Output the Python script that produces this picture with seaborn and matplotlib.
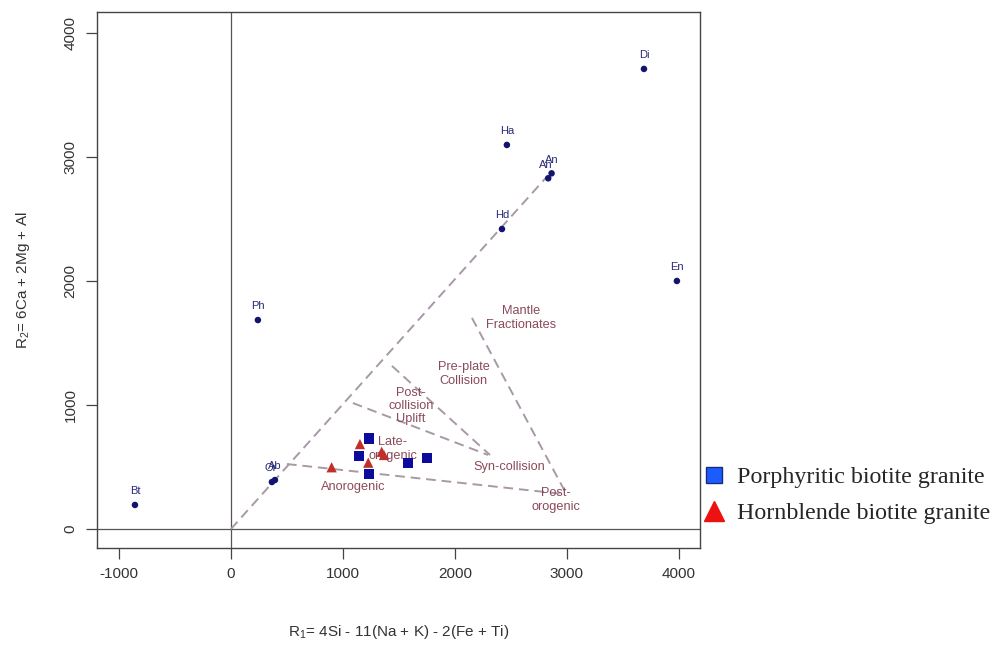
import matplotlib
matplotlib.use("Agg")
import matplotlib.pyplot as plt
from matplotlib.lines import Line2D
import pandas as pd
import seaborn as sns

# ==============================================
# Data
# ==============================================
# end-member minerals
em_labels = ["Di", "Ha", "An", "An", "Hd", "En", "Ph", "Bt", "Or", "Ab"]
em_r1 = [3688, 2464, 2833, 2863, 2420, 3982, 241, -857, 366, 393]
em_r2 = [3710, 3097, 2828, 2868, 2419, 2000, 1685, 194, 379, 395]

# samples
pbg_r1 = [1235, 1146, 1235, 1583, 1753]
pbg_r2 = [731, 589, 444, 530, 575]
hbg_r1 = [899, 1152, 1226, 1346, 1366]
hbg_r2 = [498, 685, 535, 623, 597]
group_names = ["Porphyritic biotite granite", "Hornblende biotite granite"]

# field boundaries (start r1, start r2, end r1, end r2)
bound_x0 = [0, 500, 1089, 1438, 2152]
bound_y0 = [0, 524, 1016, 1315, 1702]
bound_x1 = [2830, 2973, 2295, 2313, 3000]
bound_y1 = [2850, 282, 597, 597, 274]

# field names
field_names = ["Mantle\nFractionates", "Pre-plate\nCollision", "Post-\ncollision\nUplift",
               "Late-\norogenic", "Syn-collision", "Anorogenic", "Post-\norogenic"]
field_r1 = [2589, 2080, 1607, 1446, 2482, 1089, 2902]
field_r2 = [1702, 1250, 992, 645, 500, 339, 234]

# ==============================================
# Build frames
# ==============================================
em = pd.DataFrame({"R1": em_r1, "R2": em_r2, "label": em_labels})
samples = pd.DataFrame({
    "R1": pbg_r1 + hbg_r1,
    "R2": pbg_r2 + hbg_r2,
    "group": [group_names[0]] * len(pbg_r1) + [group_names[1]] * len(hbg_r1),
})

sns.set_style("white")
plt.rcParams["font.family"] = ["Liberation Sans", "DejaVu Sans"]
plt.rcParams["mathtext.fontset"] = "custom"
plt.rcParams["mathtext.rm"] = "Liberation Sans"
plt.rcParams["mathtext.it"] = "Liberation Sans"
plt.rcParams["axes.unicode_minus"] = False

fig = plt.figure(figsize=(10.06, 6.45), dpi=100)
ax = fig.add_axes([0.0964, 0.1504, 0.5994, 0.831])

# reference axes through origin
ax.axhline(0, color="#555555", lw=0.9, zorder=1)
ax.axvline(0, color="#555555", lw=0.9, zorder=1)

# field boundaries
for x0, y0, x1, y1 in zip(bound_x0, bound_y0, bound_x1, bound_y1):
    ax.plot([x0, x1], [y0, y1], ls=(0, (5, 3)), color="#a898a8", lw=1.4, zorder=2)

for name, x, y in zip(field_names, field_r1, field_r2):
    ax.text(x, y, name, color="#8b4a5a", fontsize=9.2, ha="center", va="center",
            linespacing=1.15, zorder=3)

# end members
sns.scatterplot(data=em, x="R1", y="R2", color="#14146e", s=22, edgecolor="none",
                ax=ax, zorder=4, legend=False)
for i, row in em.iterrows():
    dx = -10 if row["label"] == "Or" else 0
    if i == 2:
        dx = -25
    ax.text(row["R1"] + dx, row["R2"] + 70, row["label"], color="#2a2a7a",
            fontsize=8, ha="center", va="bottom", zorder=4)

# samples
sns.scatterplot(data=samples, x="R1", y="R2", hue="group", style="group",
                hue_order=group_names, style_order=group_names,
                palette=["#0c0c9c", "#c0302a"], markers=["s", "^"],
                s=55, edgecolor="none", ax=ax, zorder=5, legend=False)

ax.set_xlim(-1196, 4188)
ax.set_ylim(-153, 4169)
ax.set_xticks([-1000, 0, 1000, 2000, 3000, 4000])
ax.set_yticks([0, 1000, 2000, 3000, 4000])
ax.tick_params(axis="both", direction="out", length=8, width=0.9, color="#444444",
               labelsize=11, labelcolor="#333333", bottom=True, left=True, pad=6)
for lab in ax.get_yticklabels():
    lab.set_rotation(90)
    lab.set_va("center")
for sp in ax.spines.values():
    sp.set_color("#444444")
    sp.set_linewidth(1.0)

ax.set_xlabel("R$_1$= 4Si - 11(Na + K) - 2(Fe + Ti)", fontsize=11, color="#333333", labelpad=30)
ax.set_ylabel("R$_2$= 6Ca + 2Mg + Al", fontsize=11, color="#333333", labelpad=23)

# legend outside on the right
handles = [
    Line2D([], [], marker="s", ls="none", markersize=12, markerfacecolor="#1a5cff",
           markeredgecolor="#1a2a80", markeredgewidth=1.0),
    Line2D([], [], marker="^", ls="none", markersize=15, markerfacecolor="#ee1111",
           markeredgecolor="#ee1111"),
]
fig.legend(handles, group_names, loc="center left", bbox_to_anchor=(0.676, 0.232),
           frameon=False, handletextpad=0.45, labelspacing=0.6, handlelength=1.0,
           prop={"family": "Liberation Serif", "size": 17.3})

fig.savefig("out.png", dpi=100)
